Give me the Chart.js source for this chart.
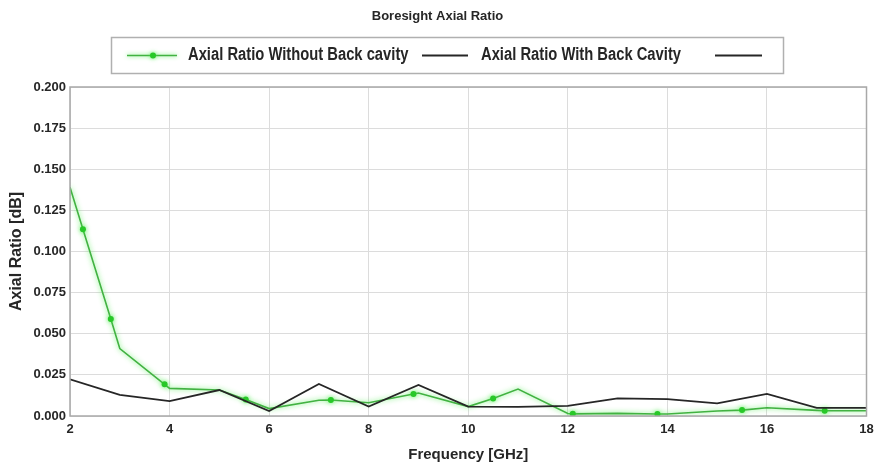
<!DOCTYPE html>
<html>
<head>
<meta charset="utf-8">
<script src="https://cdn.jsdelivr.net/npm/chart.js@4.4.1/dist/chart.umd.min.js"></script>
<style>
  html, body { margin: 0; padding: 0; background: #fff; overflow: hidden; }
  #axialChart { display: block; }
</style>
</head>
<body>
<canvas id="axialChart" width="875" height="465"></canvas>
<script>
/* globals Chart:false */
const FONT = "'Liberation Sans', Arial, sans-serif";

// Axial ratio without back cavity (green, sampled with markers)
const freqWithout = [2, 2.26, 2.82, 3, 3.9, 4, 5, 5.53, 6, 7, 7.24, 8, 8.9, 9, 10, 10.5, 11, 12, 12.1, 13, 13.8, 14, 15, 15.5, 16, 17, 17.16, 18];
const arWithout = [0.139, 0.1135, 0.059, 0.041, 0.0193, 0.0168, 0.0158, 0.0101, 0.0045, 0.0096, 0.0097, 0.0081, 0.0134, 0.014, 0.0057, 0.0107, 0.0164, 0.0015, 0.0013, 0.0016, 0.0012, 0.0012, 0.003, 0.0036, 0.005, 0.0034, 0.0032, 0.0032];
const markerWithout = [0, 1, 1, 0, 1, 0, 0, 1, 0, 0, 1, 0, 1, 0, 0, 1, 0, 0, 1, 0, 1, 0, 0, 1, 0, 0, 1, 0];

// Axial ratio with back cavity (black)
const freqWith = [2, 3, 4, 5, 6, 7, 8, 9, 10, 11, 12, 13, 14, 15, 16, 17, 18];
const arWith = [0.0223, 0.0128, 0.009, 0.0158, 0.003, 0.0195, 0.0057, 0.0189, 0.0057, 0.0055, 0.0062, 0.0107, 0.0103, 0.0077, 0.0134, 0.005, 0.005];

const seriesLabels = ["Axial Ratio Without Back cavity", "Axial Ratio With Back Cavity"];

const GREEN = "rgb(66, 178, 66)";
const GREEN_GLOW = "rgba(70, 235, 70, 0.85)";
const GREEN_DOT = "rgb(40, 200, 40)";
const BLACK = "#262626";
const TEXT = "#262626";

function toPoints(xs, ys) {
    return xs.map((x, i) => ({ x: x, y: ys[i] }));
}

// soft bright halo round the green trace
const glowPlugin = {
    id: "glow",
    beforeDatasetDraw(chart, args) {
        if (args.index !== 1) return;
        chart.ctx.save();
        chart.ctx.shadowColor = GREEN_GLOW;
        chart.ctx.shadowBlur = 5;
    },
    afterDatasetDraw(chart, args) {
        if (args.index !== 1) return;
        chart.ctx.restore();
    }
};

// the original uses a narrow bold face: squeeze text horizontally
function narrowText(ctx, text, x, y, size) {
    ctx.save();
    ctx.font = "bold " + size + "px " + FONT;
    ctx.translate(x, y);
    ctx.scale(0.82, 1);
    ctx.fillText(text, 0, 0);
    ctx.restore();
}

// plot frame + boxed legend
const frameLegendPlugin = {
    id: "frameLegend",
    afterDraw(chart) {
        var ctx = chart.ctx,
            a = chart.chartArea;

        ctx.save();
        ctx.strokeStyle = "#a8a8a8";
        ctx.lineWidth = 1.5;
        ctx.strokeRect(a.left, a.top, a.right - a.left, a.bottom - a.top);

        ctx.strokeStyle = "#b0b0b0";
        ctx.strokeRect(111.5, 37.5, 672, 36);

        var cy = 55.5;
        ctx.shadowColor = GREEN_GLOW;
        ctx.shadowBlur = 4;
        ctx.lineWidth = 1.6;
        ctx.strokeStyle = GREEN;
        ctx.beginPath(); ctx.moveTo(127, cy); ctx.lineTo(177, cy); ctx.stroke();
        ctx.fillStyle = GREEN_DOT;
        ctx.beginPath(); ctx.arc(153, cy, 3, 0, Math.PI * 2); ctx.fill();
        ctx.shadowBlur = 0;

        ctx.strokeStyle = BLACK;
        ctx.lineWidth = 1.8;
        ctx.beginPath(); ctx.moveTo(422, cy); ctx.lineTo(468, cy); ctx.stroke();
        ctx.beginPath(); ctx.moveTo(715, cy); ctx.lineTo(762, cy); ctx.stroke();

        ctx.fillStyle = TEXT;
        ctx.textBaseline = "middle";
        ctx.textAlign = "left";
        narrowText(ctx, seriesLabels[0], 188, cy, 18);
        narrowText(ctx, seriesLabels[1], 481, cy, 18);
        ctx.restore();
    }
};

new Chart(document.getElementById("axialChart"), {
    type: "line",
    data: {
        datasets: [{
            label: seriesLabels[1],
            data: toPoints(freqWith, arWith),
            borderColor: BLACK,
            borderWidth: 1.8,
            pointRadius: 0,
            tension: 0
        }, {
            label: seriesLabels[0],
            data: toPoints(freqWithout, arWithout),
            borderColor: GREEN,
            borderWidth: 1.6,
            pointRadius: markerWithout.map(m => m ? 3 : 0),
            pointBackgroundColor: GREEN_DOT,
            pointBorderWidth: 0,
            tension: 0
        }]
    },
    options: {
        responsive: false,
        devicePixelRatio: 1,
        animation: false,
        layout: { padding: 0 },
        plugins: {
            legend: { display: false },
            tooltip: { enabled: false },
            title: {
                display: true,
                text: "Boresight Axial Ratio",
                color: TEXT,
                font: { family: FONT, size: 13, weight: "bold" },
                padding: { top: 9, bottom: 62.4 }
            }
        },
        scales: {
            x: {
                type: "linear",
                min: 2,
                max: 18,
                afterFit: scale => {
                    // fixed plot edges: 70px on the left (y axis), 8.5px on the right
                    scale.height = 49;
                    scale.paddingLeft = 0;
                    scale.paddingRight = 8.5;
                },
                ticks: {
                    stepSize: 2,
                    color: TEXT,
                    padding: 6,
                    font: { family: FONT, size: 13, weight: "bold" }
                },
                grid: { color: "#dcdcdc", drawTicks: false },
                border: { display: false },
                title: {
                    display: true,
                    text: "Frequency [GHz]",
                    color: TEXT,
                    font: { family: FONT, size: 15, weight: "bold" },
                    padding: { top: 0, bottom: 1 }
                }
            },
            y: {
                min: 0,
                max: 0.2,
                afterFit: scale => { scale.width = 70; },
                ticks: {
                    stepSize: 0.025,
                    color: TEXT,
                    padding: 4,
                    font: { family: FONT, size: 13, weight: "bold" },
                    callback: v => v.toFixed(3)
                },
                grid: { color: "#dcdcdc", drawTicks: false },
                border: { display: false },
                title: {
                    display: true,
                    text: "Axial Ratio [dB]",
                    color: TEXT,
                    font: { family: FONT, size: 16, weight: "bold" },
                    padding: { top: 7, bottom: 0 }
                }
            }
        }
    },
    plugins: [glowPlugin, frameLegendPlugin]
});
</script>
</body>
</html>
